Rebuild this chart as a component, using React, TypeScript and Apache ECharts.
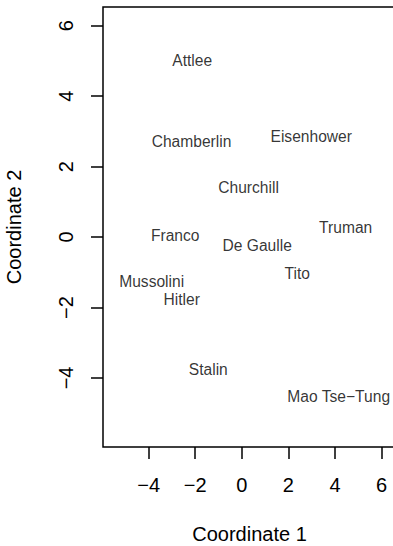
import React, { useEffect, useRef } from "react";
import * as echarts from "echarts";

const leaders = [
  "Attlee",
  "Chamberlin",
  "Eisenhower",
  "Churchill",
  "Franco",
  "De Gaulle",
  "Truman",
  "Tito",
  "Mussolini",
  "Hitler",
  "Stalin",
  "Mao Tse\u2212Tung",
];
const coord1 = [-2.13, -2.16, 2.98, 0.29, -2.86, 0.66, 4.46, 2.38, -3.87, -2.58, -1.44, 4.16];
const coord2 = [5.01, 2.7, 2.84, 1.42, 0.03, -0.24, 0.27, -1.04, -1.26, -1.76, -3.76, -4.54];
const tickValues = [-4, -2, 0, 2, 4, 6];
const xMin = -5.96;
const xMax = 6.62;
const yMin = -5.96;
const yMax = 6.53;

const FONT = "'Liberation Sans', Arial, Helvetica, sans-serif";
const fmt = (v: number) => (v < 0 ? "\u2212" + Math.abs(v) : String(v));

export default function App() {
  const ref = useRef<HTMLDivElement>(null);
  useEffect(() => {
    if (!ref.current) return;
    const chart = echarts.init(ref.current, undefined, { renderer: "svg" });
    const axisCommon = {
      type: "value" as const,
      splitLine: { show: false },
      axisLine: { show: false, onZero: false },
      axisTick: {
        show: true,
        length: 12,
        customValues: tickValues,
        lineStyle: { color: "#000", width: 1.5 },
      },
      nameLocation: "middle" as const,
      nameTextStyle: { fontSize: 20, color: "#000", fontFamily: FONT },
    };
    chart.setOption({
      animation: false,
      backgroundColor: "#fff",
      grid: {
        left: 103,
        top: 7,
        width: 293,
        height: 440,
        show: true,
        borderColor: "#000",
        borderWidth: 1.5,
        backgroundColor: "transparent",
        containLabel: false,
        outerBoundsMode: "none",
      },
      xAxis: {
        ...axisCommon,
        min: xMin,
        max: xMax,
        name: "Coordinate 1",
        nameGap: 77,
        axisLabel: {
          customValues: tickValues,
          formatter: fmt,
          fontSize: 20,
          color: "#000",
          fontFamily: FONT,
          margin: 28,
        },
      },
      yAxis: {
        ...axisCommon,
        min: yMin,
        max: yMax,
        name: "Coordinate 2",
        nameGap: 79,
        axisLabel: {
          customValues: tickValues,
          formatter: fmt,
          fontSize: 20,
          color: "#000",
          fontFamily: FONT,
          margin: 27,
          rotate: 90,
        },
      },
      series: [
        {
          type: "scatter",
          symbolSize: 1,
          itemStyle: { color: "rgba(0,0,0,0)" },
          data: leaders.map((n, i) => ({ name: n, value: [coord1[i], coord2[i]] })),
          label: {
            show: true,
            position: "inside",
            formatter: "{b}",
            fontSize: 15.6,
            color: "#000",
            fontFamily: FONT,
          },
          emphasis: { disabled: true },
        },
      ],
    });
    return () => chart.dispose();
  }, []);
  return (
    <div
      style={{
        position: "fixed",
        left: 0,
        top: 0,
        width: 393,
        height: 546,
        overflow: "hidden",
        background: "#fff",
      }}
    >
      <div ref={ref} style={{ width: 400, height: 546 }} />
    </div>
  );
}
